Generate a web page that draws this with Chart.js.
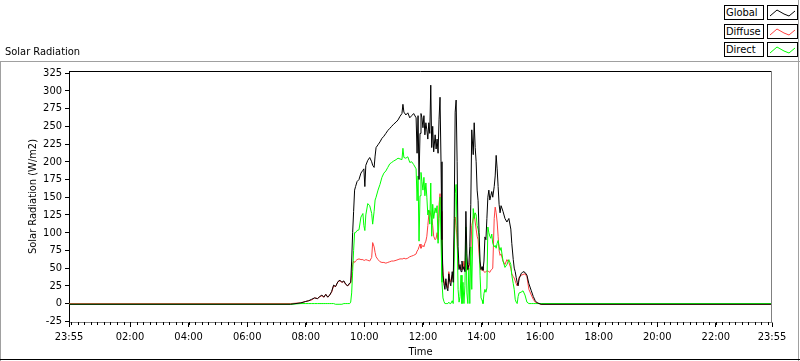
<!DOCTYPE html>
<html>
<head>
<meta charset="utf-8">
<title>Solar Radiation</title>
<script src="https://cdn.jsdelivr.net/npm/chart.js@4.4.0/dist/chart.umd.min.js"></script>
<style>
  body { margin: 0; background: #fff; }
  #wrap {
    position: relative; width: 800px; height: 361px; overflow: hidden;
    font-family: "DejaVu Sans Condensed", "Liberation Sans", sans-serif; font-size: 11px; color: #000;
  }
  #graphe { position: absolute; left: 0; top: 0; }
  #titre { position: absolute; left: 5px; top: 45px; line-height: 13px; }
  .leg {
    position: absolute; left: 724px; width: 37px; height: 13px; border: 1px solid #000;
    line-height: 13px; padding-left: 1px; background: #fff;
  }
  .sw { position: absolute; left: 767px; width: 29px; height: 13px; border: 1px solid #000; background: #fff; }
  .sw svg { display: block; }
</style>
</head>
<body>
<div id="wrap">
  <canvas id="graphe" width="800" height="361"></canvas>
  <div id="titre">Solar Radiation</div>
  <div id="legende"></div>
</div>
<script>
// minutes depuis minuit (-5 = 23:55 la veille)
const times = [-5, 449, 470, 480, 486, 492, 498, 504, 509, 513,
  517, 521, 525, 529, 533, 537, 541, 546, 550, 554,
  558, 562, 566, 570, 572, 574, 576, 578, 580, 582,
  585, 589, 593, 597, 599, 601, 603, 607, 611, 615,
  617, 620, 622, 624, 628, 632, 636, 640, 644, 648,
  652, 656, 660, 665, 669, 673, 677, 679, 681, 685,
  689, 693, 697, 701, 706, 708, 710, 712, 714, 716,
  718, 720, 722, 724, 726, 728, 730, 732, 734, 736,
  738, 740, 742, 745, 747, 749, 751, 753, 755, 757,
  759, 761, 763, 765, 767, 769, 771, 773, 775, 777,
  780, 782, 784, 786, 788, 790, 792, 794, 796, 798,
  800, 802, 804, 806, 808, 810, 812, 814, 816, 818,
  820, 823, 825, 827, 829, 831, 833, 835, 837, 839,
  841, 843, 845, 847, 849, 851, 853, 855, 857, 859,
  861, 863, 866, 868, 870, 872, 874, 876, 878, 880,
  884, 888, 892, 896, 900, 902, 905, 907, 909, 911,
  913, 915, 917, 921, 925, 929, 933, 937, 942, 946,
  950, 954, 962, 1435];

const globalVals = [-1, -1, 1, 3, 4, 6, 8, 7, 10, 12,
  9, 13, 9, 12, 17, 26, 24, 31, 33, 30,
  32, 27, 25, 29, 30, 60, 100, 130, 160, 165,
  172, 175, 184, 188, 190, 165, 195, 202, 206, 200,
  195, 192, 208, 220, 224, 228, 233, 236, 240, 244,
  247, 250, 253, 256, 259, 264, 268, 281, 270, 266,
  269, 262, 265, 268, 262, 212, 265, 175, 240, 268,
  262, 248, 265, 238, 255, 245, 232, 255, 240, 308,
  220, 250, 214, 238, 218, 232, 212, 260, 291, 200,
  90, 40, 28, 20, 35, 22, 18, 42, 30, 25,
  45, 30, 120, 270, 287, 200, 80, 48, 55, 45,
  60, 48, 52, 45, 130, 70, 48, 55, 80, 140,
  245, 210, 255, 220, 200, 160, 145, 100, 60, 48,
  52, 47, 60, 94, 90, 120, 150, 160, 146, 152,
  158, 150, 165, 180, 209, 190, 165, 140, 128, 138,
  130, 120, 115, 120, 105, 85, 62, 50, 45, 37,
  30, 25, 35, 42, 45, 44, 40, 28, 18, 10,
  4, 1, -1, -1];

const diffuseVals = [0, 0, 1, 3, 4, 5, 8, 7, 10, 11,
  9, 13, 9, 12, 16, 25, 24, 31, 32, 30,
  31, 27, 25, 28, 29, 40, 55, 60, 58, 60,
  62, 63, 62, 62, 61, 61, 62, 61, 60, 65,
  86, 80, 72, 66, 62, 59, 58, 58, 57, 58,
  59, 60, 60, 61, 62, 63, 63, 63, 64, 63,
  64, 66, 67, 68, 70, 74, 76, 80, 84, 78,
  80, 82, 80, 85, 88, 95, 110, 125, 131, 125,
  120, 110, 95, 90, 92, 100, 90, 140, 155, 130,
  70, 45, 32, 26, 28, 25, 22, 45, 35, 30,
  40, 35, 85, 122, 110, 90, 56, 50, 52, 48,
  55, 50, 60, 48, 64, 55, 47, 50, 58, 70,
  110, 120, 127, 115, 105, 95, 90, 70, 52, 47,
  48, 47, 45, 44, 45, 46, 46, 45, 44, 47,
  48, 50, 120, 136, 128, 115, 95, 75, 68, 70,
  60, 55, 62, 58, 50, 42, 38, 36, 32, 28,
  25, 30, 37, 40, 41, 42, 38, 20, 12, 6,
  2, 1, -1, -1];

const directVals = [-1, -1, 0, 0, 0, 0, 0, 0, 0, 0,
  0, 0, 0, 0, 0, 0, -1, -1, -1, -1,
  0, 0, 0, 0, 2, 15, 45, 75, 100, 100,
  103, 104, 122, 127, 110, 103, 125, 141, 138, 127,
  112, 130, 146, 150, 160, 168, 178, 184, 187, 192,
  197, 199, 201, 203, 205, 204, 203, 219, 206, 205,
  207, 199, 200, 196, 190, 145, 180, 88, 152, 185,
  172, 160, 178, 152, 170, 150, 125, 132, 112, 170,
  95, 140, 120, 135, 128, 138, 85, 120, 150, 90,
  30, 8, 3, 0, 0, 0, 0, 2, 0, 0,
  4, 0, 60, 155, 168, 100, 20, 2, 10, 40,
  0, 30, 0, 25, 108, 15, 0, 50, 0, 80,
  20, 134, 120, 128, 125, 110, 105, 95, 40, 8,
  5, 0, 14, 20, 16, 22, 108, 100, 95, 92,
  98, 85, 80, 82, 78, 85, 89, 80, 75, 79,
  60, 51, 55, 62, 55, 40, 28, 20, 6, 2,
  0, 10, 15, 16, 18, 12, 2, 0, 0, 0,
  0, 0, 0, 0];

const xTickValues = [-5, 120, 240, 360, 480, 600, 720, 840, 960, 1080, 1200, 1320, 1435];
const xTickLabels = ["23:55", "02:00", "04:00", "06:00", "08:00", "10:00", "12:00",
  "14:00", "16:00", "18:00", "20:00", "22:00", "23:55"];
const yTickValues = [-25, 0, 25, 50, 75, 100, 125, 150, 175, 200, 225, 250, 275, 300, 325];

const seriesNames = ["Global", "Diffuse", "Direct"];
const seriesColors = ["#000000", "#ff4040", "#00ff00"];

const pasMineur = 120 / 9;

function construireLegende() {
  const legende = document.querySelector("#legende");
  seriesNames.forEach((nom, i) => {
    const top = 5 + i * 18.5;
    const lab = document.createElement("div");
    lab.className = "leg";
    lab.style.top = top + "px";
    lab.textContent = nom;
    legende.appendChild(lab);
    const sw = document.createElement("div");
    sw.className = "sw";
    sw.style.top = top + "px";
    sw.innerHTML = `<svg width="29" height="13"><polyline points="2,10 9,4 16,8 21,10 27,5"
      fill="none" stroke="${seriesColors[i]}" stroke-width="1"/></svg>`;
    legende.appendChild(sw);
  });
}

const cadre = {
  id: "cadre",
  beforeDraw(chart) {
    const ctx = chart.ctx;
    ctx.save();
    ctx.fillStyle = "#fff";
    ctx.fillRect(0, 0, chart.width, chart.height);
    ctx.lineWidth = 1;
    ctx.strokeStyle = "#a0a0a0";
    ctx.beginPath();
    ctx.moveTo(0, 61.5);
    ctx.lineTo(chart.width, 61.5);
    ctx.moveTo(0.5, 61);
    ctx.lineTo(0.5, chart.height);
    ctx.moveTo(798.5, 0);
    ctx.lineTo(798.5, chart.height);
    ctx.stroke();
    ctx.strokeStyle = "#000";
    ctx.beginPath();
    ctx.moveTo(0, 359.5);
    ctx.lineTo(chart.width, 359.5);
    ctx.stroke();
    ctx.restore();
  },
  afterDraw(chart) {
    const { ctx, chartArea: a, scales } = chart;
    ctx.save();
    ctx.lineWidth = 1;
    ctx.strokeStyle = "#000";
    ctx.beginPath();
    ctx.moveTo(a.left, a.top + 0.5);
    ctx.lineTo(a.right, a.top + 0.5);
    ctx.stroke();
    ctx.strokeStyle = "#808080";
    ctx.beginPath();
    ctx.moveTo(a.right - 0.5, a.top);
    ctx.lineTo(a.right - 0.5, a.bottom);
    ctx.stroke();
    // petites graduations
    ctx.strokeStyle = "#000";
    ctx.beginPath();
    for (let m = 0; m < 1435; m += pasMineur) {
      const px = Math.round(scales.x.getPixelForValue(m)) + 0.5;
      ctx.moveTo(px, a.bottom);
      ctx.lineTo(px, a.bottom + 3);
    }
    ctx.stroke();
    ctx.restore();
  },
};

function dessinerGraphe() {
  Chart.defaults.font.family = '"DejaVu Sans Condensed", "Liberation Sans", sans-serif';
  Chart.defaults.font.size = 11;
  Chart.defaults.color = "#000";

  const valeurs = [globalVals, diffuseVals, directVals];
  // Global dessiné au-dessus
  const ordre = [0, 2, 1];

  const ctx = document.getElementById("graphe").getContext("2d");
  new Chart(ctx, {
    type: "line",
    data: {
      datasets: seriesNames.map((nom, i) => ({
        label: nom,
        data: times.map((t, j) => ({ x: t, y: valeurs[i][j] })),
        borderColor: seriesColors[i],
        borderWidth: 1,
        pointRadius: 0,
        tension: 0,
        fill: false,
        order: ordre[i],
      })),
    },
    options: {
      responsive: false,
      animation: false,
      layout: { padding: { top: 71, right: 28, left: 0, bottom: 0 } },
      plugins: { legend: { display: false }, tooltip: { enabled: false } },
      scales: {
        x: {
          type: "linear",
          min: -5,
          max: 1435,
          afterBuildTicks: (scale) => {
            scale.ticks = xTickValues.map((v) => ({ value: v }));
          },
          afterFit: (scale) => {
            scale.height = 39;
          },
          ticks: {
            autoSkip: false,
            maxRotation: 0,
            padding: 4,
            callback: (v, i) => xTickLabels[i],
          },
          grid: { drawOnChartArea: false, color: "#000", tickLength: 5 },
          border: { color: "#808080" },
          title: { display: true, text: "Time", padding: { top: 0, bottom: 2 } },
        },
        y: {
          min: -26,
          max: 328,
          afterBuildTicks: (scale) => {
            scale.ticks = yTickValues.map((v) => ({ value: v }));
          },
          afterFit: (scale) => {
            scale.width = 69;
          },
          ticks: { padding: 3 },
          grid: { drawOnChartArea: false, color: "#000", tickLength: 4 },
          border: { color: "#000" },
          title: { display: true, text: "Solar Radiation (W/m2)", padding: { top: 27, bottom: 0 } },
        },
      },
    },
    plugins: [cadre],
  });
}

document.addEventListener("DOMContentLoaded", () => {
  construireLegende();
  dessinerGraphe();
});
</script>
</body>
</html>
